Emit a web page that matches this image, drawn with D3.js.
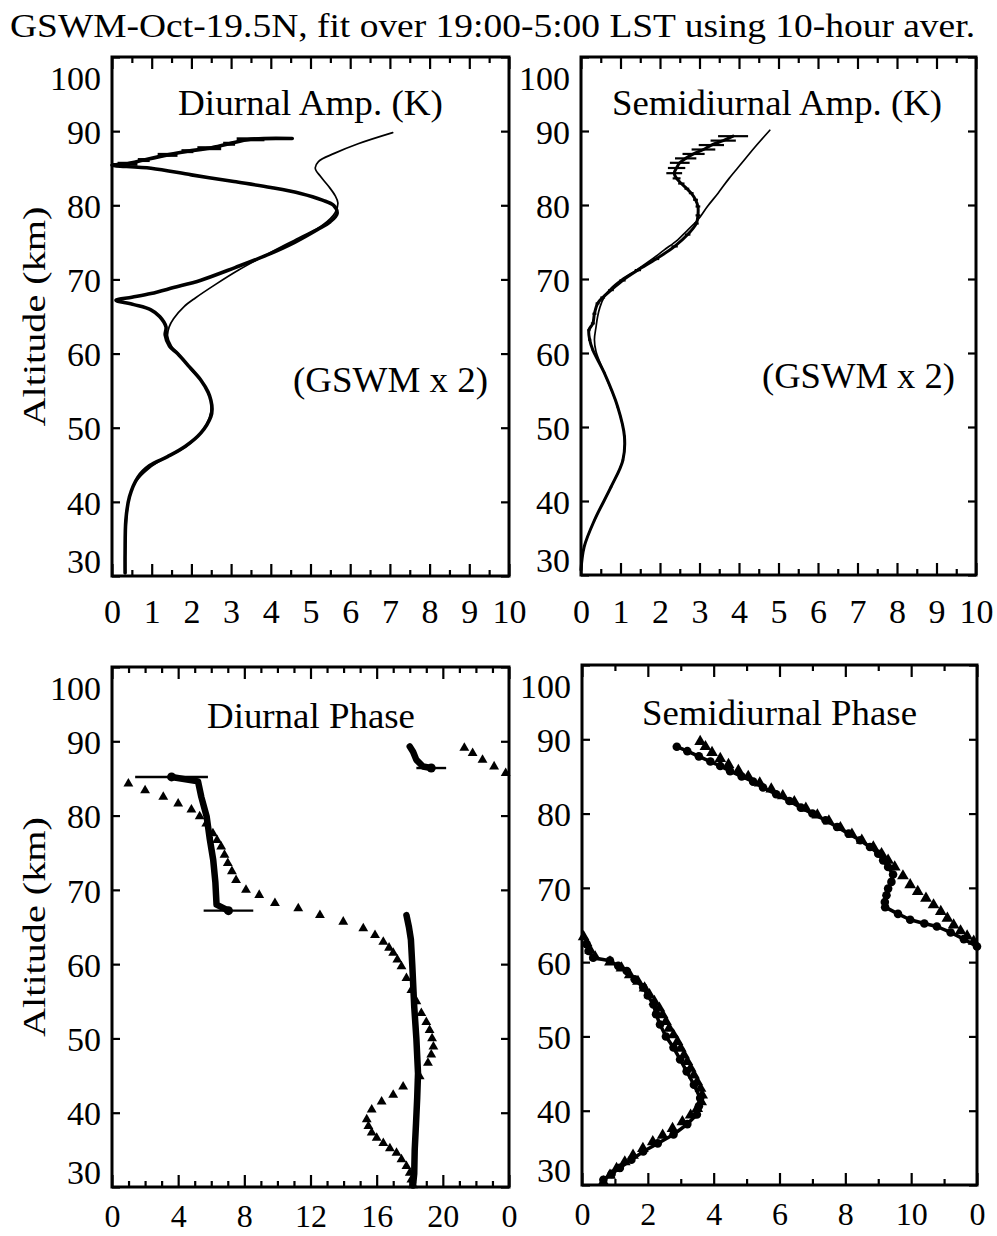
<!DOCTYPE html>
<html><head><meta charset="utf-8">
<script src="https://cdn.jsdelivr.net/npm/d3@7"></script>
<style>
body{margin:0;background:#fff}
text{font-family:"Liberation Serif","Times New Roman",serif;fill:#000}
</style>
</head><body>
<svg id="c" width="997" height="1236"></svg>
<script>
// ---------------- DATA ----------------
const titleText = "GSWM-Oct-19.5N, fit over 19:00-5:00 LST using 10-hour aver.";
const altTicks = [30,40,50,60,70,80,90,100];
const ampMajorTicks = [0,1,2,3,4,5,6,7,8,9,10];
const ampMinorTicks = [0.5,1.5,2.5,3.5,4.5,5.5,6.5,7.5,8.5,9.5];
const dPhaseMajorTicks = [0,4,8,12,16,20,24];
const dPhaseLabels = ["0","4","8","12","16","20","0"];
const dPhaseMinorTicks = [1,2,3,5,6,7,9,10,11,13,14,15,17,18,19,21,22,23];
const sPhaseMajorTicks = [0,2,4,6,8,10,12];
const sPhaseLabels = ["0","2","4","6","8","10","0"];
const sPhaseMinorTicks = [1,3,5,7,9,11];

// Diurnal amplitude (K) vs altitude (km)
const diurnalAmpModel = [[7.07,89.8],[6.2,88.3],[5.6,87.0],[5.2,85.9],[5.12,85.0],[5.25,83.9],[5.45,82.6],[5.62,81.3],[5.69,80.3],[5.62,79.0],[5.3,77.3],[4.7,75.6],[3.95,73.5],[3.2,71.3],[2.6,69.3],[2.1,67.5],[1.81,66.3],[1.55,64.7],[1.44,63.6],[1.4,62.4],[1.5,61.0],[1.7,59.8],[2.0,57.8],[2.24,56.4],[2.45,54.5],[2.5,53.0],[2.45,51.3],[2.24,49.3],[1.85,47.4],[1.4,46.1],[0.95,44.6],[0.6,42.7],[0.44,40.7],[0.38,38.5],[0.35,36.0],[0.33,33.0],[0.33,30.4]];
const diurnalAmpFit = [[4.54,89.0,0],[3.49,88.9,0.35],[2.95,88.3,0.15],[2.45,87.7,0.3],[1.9,87.3,0.15],[1.4,86.8,0.25],[0.8,86.1,0.15],[0.39,85.6,0.25],[0.0,85.4,0],[0.98,85.0,0],[2.0,84.1,0],[3.07,83.2,0],[4.0,82.4,0],[4.75,81.6,0],[5.3,80.7,0],[5.58,80.0,0],[5.67,78.9,0],[5.5,77.8,0],[5.17,76.7,0],[4.6,75.0,0],[3.91,73.3,0],[3.1,71.6,0],[2.24,69.9,0],[1.55,68.9,0],[0.98,68.1,0],[0.5,67.6,0],[0.1,67.2,0],[0.55,66.6,0],[0.98,65.9,0],[1.2,65.0,0],[1.36,63.6,0],[1.34,62.5,0],[1.45,61.0,0],[1.65,60.0,0],[1.95,58.2,0],[2.24,56.4,0],[2.42,54.8,0],[2.49,53.7,0],[2.52,52.5,0],[2.49,51.5,0],[2.24,49.3,0],[1.85,47.5,0],[1.40,46.1,0],[0.95,44.9,0],[0.65,43.3,0],[0.44,40.7,0],[0.35,37.6,0],[0.33,33.1,0],[0.33,30.4,0]];

// Semidiurnal amplitude (K)
const semiAmpModel = [[4.78,90.1],[4.4,87.8],[4.06,85.6],[3.75,83.6],[3.47,81.6],[3.2,79.8],[2.96,78.0],[2.7,76.6],[2.45,75.3],[2.1,73.9],[1.78,72.6],[1.4,71.2],[1.02,69.9],[0.75,68.7],[0.59,67.6],[0.48,66.2],[0.42,64.9],[0.38,63.5],[0.34,61.8],[0.38,60.2],[0.59,57.3],[0.93,52.7],[1.10,48.7],[1.06,45.5],[0.76,41.9],[0.34,37.4],[0.08,33.8],[0,30.7]];
const semiAmpFit = [[3.85,89.3,0.38],[3.6,88.7,0.32],[3.3,88.1,0.32],[3.1,87.5,0.3],[2.85,86.9,0.28],[2.65,86.3,0.27],[2.5,85.7,0.25],[2.42,85.0,0.22],[2.36,84.3,0.2],[2.42,83.6,0.1],[2.54,82.9,0.08],[2.68,82.2,0.06],[2.79,81.6,0.06],[2.9,80.7,0.06],[2.96,79.8,0.06],[2.96,78.6,0.06],[2.92,77.5,0.06],[2.7,76.0,0.07],[2.37,74.4,0.08],[1.9,72.7,0.08],[1.44,71.2,0.08],[1.05,69.8,0.08],[0.76,68.5,0.07],[0.55,67.5,0.06],[0.42,66.7,0.05],[0.34,65.3,0.05],[0.30,64.0,0.05],[0.2,63.1,0.04],[0.22,61.8,0.04],[0.30,60.4,0.03],[0.59,57.3,0.03],[0.93,52.7,0.03],[1.10,48.7,0.03],[1.06,45.5,0.03],[0.76,41.9,0.03],[0.34,37.4,0.02],[0.08,33.8,0.02],[0,30.7,0]];

// Diurnal phase (hour LST)
const diurnalPhaseModel = [[21.3,89.1],[21.8,88.4],[22.4,87.5],[23.1,86.6],[23.8,85.7],[0.99,84.3],[2.0,83.4],[3.1,82.5],[4.0,81.6],[4.8,80.8],[5.3,79.9],[5.7,78.9],[6.1,77.6],[6.35,76.7],[6.6,75.8],[6.8,74.7],[7.0,73.6],[7.25,72.5],[7.5,71.3],[8.1,70.0],[8.9,69.3],[9.85,68.2],[11.26,67.5],[12.57,66.6],[13.98,65.7],[15.19,64.8],[15.9,63.9],[16.4,63.0],[16.75,62.2],[17.0,61.5],[17.25,60.6],[17.5,59.7],[17.8,58.1],[18.1,56.5],[18.4,55.0],[18.7,53.4],[19.0,52.2],[19.2,51.1],[19.35,50.0],[19.43,48.9],[19.3,47.8],[19.1,46.7],[18.6,44.9],[17.6,43.5],[17.0,42.4],[16.3,41.5],[15.7,40.4],[15.4,39.1],[15.5,38.2],[15.7,37.3],[16.0,36.6],[16.4,35.9],[16.8,35.2],[17.2,34.6],[17.5,33.7],[17.8,32.8],[18.0,31.9],[18.1,31.0],[18.2,30.2]];
const diurnalPhaseFitUpper = [[18.0,89.3,0],[18.2,88.6,0],[18.4,87.5,0],[18.8,86.6,0],[19.3,86.4,0.9]];
const diurnalPhaseFitMiddle = [[3.6,85.2,2.2],[5.2,84.6,0],[5.4,82.5,0],[5.72,79.9,0],[5.9,77.0,0],[6.12,74.0,0],[6.25,71.0,0],[6.32,68.0,0],[7.04,67.2,1.5]];
const diurnalPhaseFitLower = [[17.8,66.6],[17.95,65.0],[18.07,63.3],[18.15,60.0],[18.27,54.3],[18.4,50.0],[18.5,45.3],[18.45,42.0],[18.38,38.6],[18.3,35.0],[18.27,31.8],[18.2,30.2]];

// Semidiurnal phase (hour LST)
const semiPhaseModel = [[3.59,89.7],[3.75,89.0],[3.95,88.2],[4.2,87.4],[4.45,86.6],[4.75,85.8],[5.05,85.0],[5.4,84.1],[5.75,83.3],[6.1,82.4],[6.45,81.6],[6.8,80.7],[7.15,79.8],[7.5,79.0],[7.85,78.1],[8.2,77.2],[8.5,76.4],[8.85,75.5],[9.1,74.6],[9.3,73.7],[9.5,72.8],[9.75,71.6],[9.97,70.4],[10.2,69.5],[10.45,68.6],[10.68,67.7],[10.9,66.8],[11.1,65.9],[11.29,65.0],[11.5,64.2],[11.7,63.5],[11.9,62.8],[0.05,63.4],[0.14,62.6],[0.25,61.6],[0.4,60.7],[0.85,60.0],[1.2,59.2],[1.45,58.3],[1.7,57.4],[1.9,56.5],[2.05,55.6],[2.2,54.7],[2.35,53.8],[2.45,52.9],[2.55,52.0],[2.65,51.1],[2.78,50.2],[2.9,49.3],[3.0,48.4],[3.1,47.5],[3.2,46.6],[3.3,45.7],[3.4,44.8],[3.5,43.9],[3.6,43.0],[3.65,42.1],[3.62,41.2],[3.5,40.3],[3.3,39.4],[3.05,38.5],[2.75,37.6],[2.45,36.7],[2.15,35.8],[1.85,34.9],[1.55,34.0],[1.3,33.1],[1.05,32.2],[0.85,31.3],[0.65,30.4]];
const semiPhaseFitUpper = [[2.88,89.0],[3.2,88.4],[3.55,87.7],[3.9,87.0],[4.2,86.4],[4.5,85.7],[4.85,85.0],[5.2,84.3],[5.5,83.5],[5.9,82.6],[6.3,81.7],[6.65,80.8],[7.0,80.0],[7.4,79.1],[7.75,78.2],[8.1,77.3],[8.45,76.4],[8.75,75.5],[9.0,74.6],[9.15,73.7],[9.3,72.8],[9.45,71.8],[9.4,70.8],[9.3,69.9],[9.25,69.0],[9.2,68.1],[9.21,67.4],[9.6,66.5],[9.97,65.7],[10.4,65.2],[10.78,64.8],[11.2,64.0],[11.6,63.1],[12.0,62.1]];
const semiPhaseFitLower = [[0.14,62.4],[0.2,61.5],[0.34,60.6],[0.85,60.2],[1.1,59.5],[1.36,58.8],[1.6,57.7],[1.86,56.6],[2.0,55.5],[2.17,54.3],[2.25,53.0],[2.37,51.6],[2.55,50.0],[2.78,48.5],[2.98,46.9],[3.18,45.3],[3.4,43.5],[3.59,41.7],[3.55,40.6],[3.49,39.5],[3.2,38.2],[2.78,36.8],[2.3,35.6],[1.86,34.5],[1.5,33.4],[1.15,32.3],[0.9,31.5],[0.65,30.7]];

// ---------------- DRAWING ----------------
const svg = d3.select("#c");
const FONT = '"Liberation Serif","Times New Roman",serif';

svg.append("text").attr("x",10).attr("y",37).attr("font-size",34)
  .attr("textLength",965).attr("lengthAdjust","spacingAndGlyphs").text(titleText);

function panel(o){
  const x = d3.scaleLinear().domain(o.xDomain).range([o.left,o.right]);
  const y = d3.scaleLinear().domain([30,100]).range([o.bottom,o.top]);
  const g = svg.append("g");

  function style(ax){
    ax.select(".domain").remove();
    ax.selectAll("line").attr("stroke","#000").attr("stroke-width",2.2);
    ax.attr("font-family",FONT).attr("font-size",o.tickFont);
    ax.selectAll("text").attr("fill","#000");
  }
  g.append("g").attr("transform",`translate(0,${o.bottom})`)
    .call(d3.axisBottom(x).tickValues(o.minorX).tickSize(-6).tickFormat("")).call(style);
  g.append("g").attr("transform",`translate(0,${o.bottom})`)
    .call(d3.axisBottom(x).tickValues(o.majorX).tickSize(-12).tickPadding(o.xPad)
      .tickFormat((d,i)=>o.xLabels[i])).call(style);
  g.append("g").attr("transform",`translate(0,${o.top})`)
    .call(d3.axisTop(x).tickValues(o.minorX).tickSize(-6).tickFormat("")).call(style);
  g.append("g").attr("transform",`translate(0,${o.top})`)
    .call(d3.axisTop(x).tickValues(o.majorX).tickSize(-12).tickFormat("")).call(style);
  const yl = g.append("g").attr("transform",`translate(${o.left},0)`)
    .call(d3.axisLeft(y).tickValues(altTicks).tickSize(-8).tickPadding(11)).call(style);
  yl.attr("font-size",34);
  yl.selectAll("text").attr("dy",d=> d===100 ? "0.95em" : d===30 ? "-0.1em" : "0.36em");
  g.append("g").attr("transform",`translate(${o.right},0)`)
    .call(d3.axisRight(y).tickValues(altTicks).tickSize(-8).tickFormat("")).call(style);
  g.append("rect").attr("x",o.left).attr("y",o.top)
    .attr("width",o.right-o.left).attr("height",o.bottom-o.top)
    .attr("fill","none").attr("stroke","#000").attr("stroke-width",3);
  if(o.ylabel){
    g.append("text").attr("transform",`translate(45,${(o.top+o.bottom)/2}) rotate(-90)`)
      .attr("text-anchor","middle").attr("font-size",32)
      .attr("textLength",220).attr("lengthAdjust","spacingAndGlyphs").text("Altitude (km)");
  }
  o.texts.forEach(t=>{
    g.append("text").attr("x",t.x).attr("y",t.y).attr("font-size",36)
      .attr("textLength",t.w).attr("lengthAdjust","spacingAndGlyphs").text(t.s);
  });
  return {g,x,y};
}

function drawLine(p, data, width, curve){
  const line = d3.line().x(d=>p.x(d[0])).y(d=>p.y(d[1])).curve(curve || d3.curveLinear);
  return p.g.append("path").datum(data).attr("d",line)
    .attr("fill","none").attr("stroke","#000").attr("stroke-width",width)
    .attr("stroke-linejoin","round").attr("stroke-linecap","round");
}
function drawErr(p, data, width){
  p.g.append("g").selectAll("line").data(data.filter(d=>d[2]>0)).join("line")
    .attr("x1",d=>p.x(d[0]-d[2])).attr("x2",d=>p.x(d[0]+d[2]))
    .attr("y1",d=>p.y(d[1])).attr("y2",d=>p.y(d[1]))
    .attr("stroke","#000").attr("stroke-width",width);
}
function drawTri(p, data, size){
  p.g.append("g").selectAll("path").data(data).join("path")
    .attr("transform",d=>`translate(${p.x(d[0])},${p.y(d[1])})`)
    .attr("d",d3.symbol(d3.symbolTriangle).size(size)).attr("fill","#000");
}
function drawDots(p, data, r){
  p.g.append("g").selectAll("circle").data(data).join("circle")
    .attr("cx",d=>p.x(d[0])).attr("cy",d=>p.y(d[1])).attr("r",r).attr("fill","#000");
}
const smooth = d3.curveCatmullRom.alpha(0.5);

// Top-left: Diurnal amplitude
const p1 = panel({left:112,right:509,top:57,bottom:576,xDomain:[0,10],tickFont:34,
  majorX:ampMajorTicks,minorX:ampMinorTicks,xLabels:ampMajorTicks.map(String),xPad:23,ylabel:true,
  texts:[{x:178,y:115,w:265,s:"Diurnal Amp. (K)"},{x:293,y:392,w:195,s:"(GSWM x 2)"}]});
drawLine(p1, diurnalAmpModel, 1.7, smooth);
drawLine(p1, diurnalAmpFit, 3.6, smooth);
drawErr(p1, diurnalAmpFit, 4);

// Top-right: Semidiurnal amplitude
const p2 = panel({left:581,right:976,top:57,bottom:575,xDomain:[0,10],tickFont:34,
  majorX:ampMajorTicks,minorX:ampMinorTicks,xLabels:ampMajorTicks.map(String),xPad:24,ylabel:false,
  texts:[{x:612,y:115,w:330,s:"Semidiurnal Amp. (K)"},{x:762,y:388,w:193,s:"(GSWM x 2)"}]});
drawLine(p2, semiAmpModel, 1.7, smooth);
drawLine(p2, semiAmpFit, 3, smooth);
drawErr(p2, semiAmpFit, 2.2);

// Bottom-left: Diurnal phase
const p3 = panel({left:112,right:509,top:667,bottom:1187,xDomain:[0,24],tickFont:32,
  majorX:dPhaseMajorTicks,minorX:dPhaseMinorTicks,xLabels:dPhaseLabels,xPad:17,ylabel:true,
  texts:[{x:207,y:728,w:208,s:"Diurnal Phase"}]});
drawTri(p3, diurnalPhaseModel, 42);
[diurnalPhaseFitUpper, diurnalPhaseFitMiddle].forEach(s=>{
  drawLine(p3, s, 6.5); drawErr(p3, s, 2.4);
  drawDots(p3, s.filter(d=>d[2]>0), 4.5);
});
drawLine(p3, diurnalPhaseFitLower, 6.5);

// Bottom-right: Semidiurnal phase
const p4 = panel({left:582,right:977,top:665,bottom:1185,xDomain:[0,12],tickFont:32,
  majorX:sPhaseMajorTicks,minorX:sPhaseMinorTicks,xLabels:sPhaseLabels,xPad:17,ylabel:false,
  texts:[{x:642,y:725,w:275,s:"Semidiurnal Phase"}]});
drawTri(p4, semiPhaseModel, 60);
[semiPhaseFitUpper, semiPhaseFitLower].forEach(s=>{
  drawLine(p4, s, 3.5);
  drawDots(p4, s, 4.3);
});
</script>
</body></html>
